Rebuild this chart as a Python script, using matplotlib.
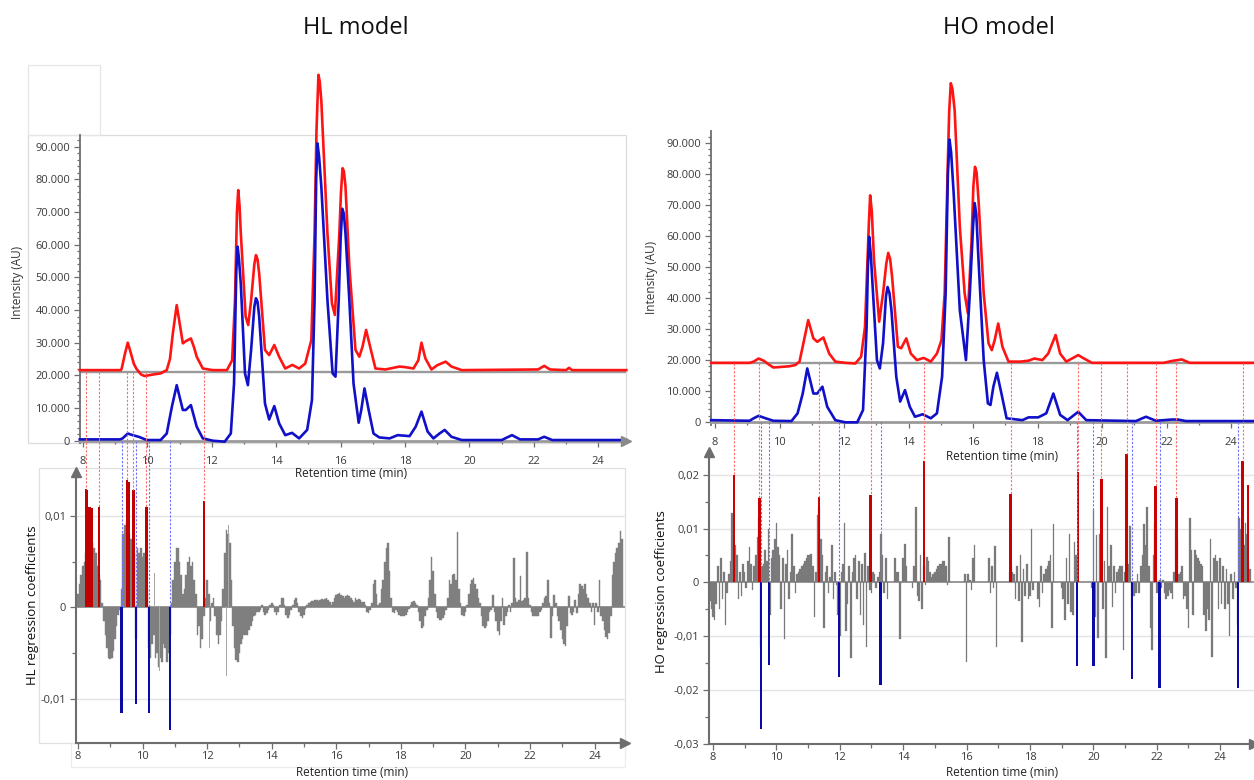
import numpy as np
import matplotlib
matplotlib.use("Agg")
import matplotlib.pyplot as plt
from matplotlib.lines import Line2D
from matplotlib.patches import Rectangle
from matplotlib.ticker import MultipleLocator, FuncFormatter
from matplotlib.transforms import blended_transform_factory

plt.rcParams['font.family'] = ['Open Sans', 'DejaVu Sans']

# ---------------- data: chromatograms (retention time in min, intensity in AU) ----------------
hl_red_trace = [
    (7.90, 21600), (9.17, 21600), (9.20, 22000), (9.30, 26500), (9.39, 30000), (9.48, 27000), (9.58, 23500),
    (9.66, 22000), (9.80, 20300), (9.91, 19800), (10.20, 20300), (10.41, 20600), (10.60, 21600), (10.70, 25000),
    (10.79, 32900), (10.91, 41500), (11.00, 36000), (11.10, 29800), (11.20, 30500), (11.35, 31300), (11.45, 28500),
    (11.53, 25700), (11.72, 22100), (12.03, 21600), (12.47, 21600), (12.63, 24600), (12.72, 43000), (12.78, 70000),
    (12.82, 76700), (12.86, 72000), (12.90, 63500), (13.05, 38000), (13.13, 35400), (13.22, 43000), (13.32, 54000),
    (13.37, 56800), (13.42, 55500), (13.47, 51200), (13.65, 27800), (13.78, 26200), (13.94, 29300), (14.09, 25700),
    (14.28, 22100), (14.50, 23200), (14.71, 22100), (14.90, 23600), (15.09, 30800), (15.19, 63500), (15.25, 95000),
    (15.31, 112000), (15.35, 110000), (15.40, 104000), (15.59, 63500), (15.73, 42000), (15.82, 38500),
    (15.96, 63500), (16.01, 76000), (16.06, 83400), (16.10, 82500), (16.15, 77800), (16.27, 53300), (16.46, 27800),
    (16.58, 25700), (16.68, 28800), (16.79, 33900), (16.89, 29800), (17.08, 22100), (17.39, 21800), (17.83, 22700),
    (18.01, 22500), (18.26, 22100), (18.41, 24600), (18.51, 30000), (18.63, 25200), (18.82, 21800), (19.00, 23100),
    (19.26, 24200), (19.44, 22700), (19.76, 21600), (22.13, 21800), (22.32, 22900), (22.50, 21800), (23.00, 21600),
    (23.09, 22300), (23.19, 21600), (24.87, 21600)]
hl_blue_trace = [
    (7.90, 400), (9.15, 400), (9.23, 700), (9.39, 2200), (9.54, 1700), (9.73, 1200), (9.98, 200), (10.41, 200),
    (10.60, 2200), (10.76, 10400), (10.91, 17000), (11.10, 9400), (11.19, 9400), (11.35, 10900), (11.53, 4300),
    (11.72, 700), (12.03, 0), (12.40, -300), (12.59, 2200), (12.69, 17500), (12.76, 52000), (12.80, 59400),
    (12.84, 56000), (12.90, 48000), (13.03, 20600), (13.12, 17000), (13.22, 27800), (13.32, 41000), (13.37, 43600),
    (13.42, 42500), (13.47, 38000), (13.65, 11400), (13.78, 6500), (13.94, 10600), (14.09, 5300), (14.28, 1700),
    (14.49, 2400), (14.71, 700), (14.96, 3300), (15.11, 12500), (15.19, 43000), (15.24, 80000), (15.28, 91000),
    (15.33, 87000), (15.40, 77800), (15.59, 43000), (15.75, 20600), (15.84, 19600), (15.94, 43000), (16.00, 62000),
    (16.05, 71000), (16.10, 69500), (16.15, 63500), (16.27, 43000), (16.40, 17500), (16.56, 5500), (16.64, 9400),
    (16.74, 16000), (16.87, 9400), (17.02, 2200), (17.20, 1000), (17.52, 700), (17.77, 1700), (18.14, 1400),
    (18.33, 4300), (18.51, 8900), (18.70, 2800), (18.88, 700), (19.07, 2200), (19.23, 3300), (19.44, 1200),
    (19.76, 200), (21.00, 200), (21.32, 1700), (21.57, 400), (22.13, 400), (22.32, 1200), (22.57, 200), (24.87, 200)]

ho_red_trace = [
    (7.88, 19000), (9.07, 19000), (9.20, 19400), (9.35, 20400), (9.51, 19700), (9.69, 18300), (9.81, 17500),
    (10.06, 17700), (10.31, 17900), (10.49, 18300), (10.62, 19400), (10.74, 25300), (10.89, 32800), (11.05, 26900),
    (11.17, 25800), (11.36, 27200), (11.54, 22000), (11.73, 19400), (12.04, 19000), (12.35, 18800), (12.53, 21000),
    (12.65, 30600), (12.77, 64000), (12.81, 73100), (12.86, 68000), (12.93, 52100), (13.09, 32300), (13.21, 41400),
    (13.31, 51000), (13.37, 54500), (13.43, 52500), (13.49, 46800), (13.67, 24200), (13.77, 23700), (13.93, 26900),
    (14.07, 22000), (14.26, 19900), (14.47, 20600), (14.69, 19400), (14.88, 22000), (15.02, 26300), (15.12, 41400),
    (15.22, 84400), (15.26, 100000), (15.31, 109300), (15.36, 107500), (15.43, 100500), (15.59, 62900),
    (15.74, 41400), (15.84, 35000), (15.95, 57600), (16.01, 76000), (16.06, 82300), (16.11, 80500), (16.17, 71500),
    (16.33, 41400), (16.48, 25300), (16.58, 23100), (16.67, 26300), (16.78, 31700), (16.91, 24200), (17.10, 19400),
    (17.47, 19400), (17.72, 19700), (17.90, 20400), (18.15, 19900), (18.33, 22000), (18.56, 28000), (18.70, 22000),
    (18.89, 19400), (19.26, 21500), (19.44, 20400), (19.69, 19000), (21.91, 19000), (22.16, 19600), (22.47, 20100),
    (22.72, 19000), (24.73, 19000)]
ho_blue_trace = [
    (7.88, 500), (9.07, 300), (9.20, 1100), (9.35, 1900), (9.57, 1100), (9.81, 300), (10.37, 200), (10.56, 2700),
    (10.72, 9100), (10.86, 17200), (11.05, 9100), (11.17, 9100), (11.33, 11300), (11.48, 4800), (11.73, 500),
    (12.04, -200), (12.41, -200), (12.59, 3800), (12.70, 30600), (12.74, 50000), (12.78, 59700), (12.83, 54000),
    (12.90, 41400), (13.02, 19900), (13.11, 17200), (13.21, 25300), (13.30, 40500), (13.35, 43500), (13.41, 41500),
    (13.47, 36000), (13.62, 14500), (13.74, 6500), (13.89, 10200), (14.04, 4800), (14.20, 1600), (14.44, 2400),
    (14.69, 1100), (14.88, 2700), (15.04, 14500), (15.15, 41400), (15.22, 80000), (15.27, 91100), (15.32, 87000),
    (15.40, 73600), (15.59, 36000), (15.78, 19900), (15.90, 41400), (16.00, 63000), (16.05, 70600), (16.10, 67000),
    (16.17, 52100), (16.33, 19900), (16.46, 5900), (16.54, 5400), (16.63, 11300), (16.74, 15800), (16.88, 9100),
    (17.04, 1100), (17.53, 500), (17.72, 1400), (18.02, 1400), (18.27, 2700), (18.49, 9100), (18.70, 2200),
    (18.93, 500), (19.26, 3200), (19.51, 500), (21.05, 200), (21.36, 1600), (21.67, 300), (22.16, 700),
    (22.35, 700), (22.60, 200), (24.73, 200)]

hl_red_baseline = 21030
ho_red_baseline = 18950
intensity_ticks = [0, 10000, 20000, 30000, 40000, 50000, 60000, 70000, 80000, 90000]

# ---------------- data: regression coefficients (x 1e-3), one bar every 0.05 min ----------------
hl_coef_start = 8.00
hl_coef_milli = [
    1.5, 2.5, 3.5, 4.5, 5.0, 6.0, 8.0, 8.5, 8.0, 7.0, 6.5, 6.0, 4.5, 3.5, 3.0, 0.5, -1.5, -3.0, -4.5, -5.5,
    -5.7, -5.5, -4.8, -3.5, -2.0, -0.8, -0.3, 2.0, 8.0, 9.0, 9.5, 9.0, 8.0, 7.5, 7.0, 6.0, -3.5, 6.5, 6.0, 6.5,
    5.5, 6.0, 5.0, 2.0, -4.5, -5.5, -4.0, -3.0, -5.5, -5.0, -6.5, -5.5, -6.0, -4.0, -4.5, -6.0, -5.0, -3.0, 0.5, 3.0,
    5.0, 6.5, 6.5, 5.0, 3.5, 1.5, 2.0, 3.5, 5.0, 5.5, 4.5, 5.0, 3.0, 1.5, -3.0, -2.0, -4.5, -3.5, -1.0, 1.0,
    3.0, 1.5, -1.5, 0.5, 1.0, -1.0, -3.0, -4.0, -3.0, -1.5, 2.0, 6.0, 8.5, 8.0, 7.0, 3.0, -2.0, -4.5, -5.8, -6.0,
    -5.0, -4.0, -3.5, -3.0, -3.0, -3.0, -2.5, -2.0, -1.5, -1.0, -0.8, -0.5, -0.5, -0.3, 0.2, -0.5, -0.8, -0.6, -0.3, 0.3,
    0.5, 0.2, -0.5, -0.8, -0.5, 0.3, 1.0, 1.0, 0.3, -0.8, -1.2, -0.8, -0.3, 0.3, 0.8, 1.0, 0.5, -0.5, -1.0, -1.2,
    -0.8, -0.2, 0.3, 0.5, 0.6, 0.7, 0.7, 0.8, 0.8, 0.7, 0.8, 0.9, 0.8, 0.9, 1.0, 0.8, 0.6, 0.3, 0.6, 1.0,
    1.3, 1.5, 1.6, 1.4, 1.2, 1.0, 1.2, 1.4, 1.2, 1.0, 0.8, 0.6, 1.0, 0.8, 0.9, 0.8, 0.6, 0.6, 0.3, -0.5,
    -0.6, -0.3, 0.5, 2.5, 3.0, 1.5, 0.3, 0.5, 2.0, 3.0, 5.0, 6.5, 7.0, 4.0, 1.0, -0.5, -0.6, -0.3, -0.5, -0.8,
    -1.0, -1.0, -1.0, -0.8, -0.5, -0.2, 0.3, 0.6, 0.7, 0.5, 0.2, -0.5, -1.5, -2.3, -2.0, -1.0, -0.3, 1.0, 3.0, 5.5,
    4.0, 1.5, -0.5, -1.2, -1.4, -1.4, -1.2, -0.8, -0.3, 1.0, 3.0, 2.5, 3.5, 3.6, 3.0, 8.3, 2.0, 0.5, -0.8, -1.0,
    -0.5, 0.3, 1.5, 2.5, 3.0, 3.2, 2.5, 2.0, 1.0, 0.5, -1.0, -2.0, -2.3, -2.0, -1.5, -0.5, -0.3, 1.4, -0.5, -1.5,
    -2.6, -3.0, -1.5, 1.0, -1.9, -1.0, -0.5, 0.3, -0.5, 0.5, 5.4, 1.0, 0.6, 0.8, 3.4, 0.7, 0.8, 1.0, 6.1, 1.0,
    0.3, -0.5, -0.9, -1.0, -1.0, -0.9, -0.5, -0.3, 0.5, 1.0, 1.2, 3.0, 0.5, -3.4, -1.0, 1.4, 0.5, -1.0, -1.5, -2.5,
    -3.5, -4.0, -4.2, -2.0, 1.2, -0.6, -0.8, -0.5, 0.8, -0.6, 1.5, 2.5, 2.3, 2.0, 2.5, 1.5, 1.0, 0.5, -0.5, 0.5,
    -1.9, 0.5, -0.5, 3.0, -1.0, -1.5, -2.5, -3.2, -3.5, -2.8, -1.0, 3.5, 5.0, 6.0, 6.5, 7.0, 8.4, 7.5, 0.0, 0.0,
]
hl_spike_t = [10.05, 10.37, 10.52, 10.67, 10.72, 11.84, 12.08, 12.60, 12.66, 10.30, 11.60]
hl_spike_milli = [-6.0, 3.8, -7.0, -8.5, 6.8, -7.0, -4.5, -7.5, 9.0, -8.0, 4.5]

ho_coef_start = 7.85
ho_coef_milli = [
    -2.0, -3.5, -5.0,
    -6.5, -7.0, -4.0, 3.0, -5.0, 4.5, -3.0, 2.0, -8.0, -2.0, 1.5, 4.0, 12.8, 7.5, 7.0, 5.0, -3.0, 2.0, -2.5, 3.5,
    2.0, -1.0, 4.0, 6.5, 3.5, -1.5, 3.0, 5.0, 8.5, 12.0, -12.0, 3.0, 3.5, 6.0, 4.0, 10.0, -6.0, 4.5, 6.0, 8.0,
    11.0, 6.5, 5.0, -5.0, 4.5, -10.5, 3.5, 6.0, -3.0, 2.0, 9.0, 3.0, -2.0, 1.5, 2.0, 2.5, 3.0, 3.5, 4.0, 4.5,
    5.0, 5.0, 5.2, 3.0, -6.5, 2.0, 12.5, 14.0, 8.0, 5.0, -8.5, 2.0, 3.0, -2.0, 1.0, 6.9, -3.0, 2.0, -0.5, -6.0,
    -10.0, 2.0, 3.5, 11.0, -9.0, -4.0, 3.0, -14.0, 2.0, 4.5, 5.0, -3.0, 4.0, -6.0, 3.5, -8.0, 5.5, -12.0, 3.0, -1.5,
    -2.0, 2.0, 1.5, -1.0, 1.0, 2.0, 9.0, 5.0, -2.0, 4.5, -3.0, 0.0, 0.0, 0.0, 0.0, 4.5, 2.0, 2.0, -10.5, 0.0,
    4.5, 7.2, 3.0, 0.0, 0.0, 0.0, -1.0, 3.0, 14.0, -2.5, -3.5, 5.0, -5.0, 3.0, -0.5, 4.8, 4.0, 2.0, 1.0, 1.5,
    2.0, 2.5, 3.0, 3.5, 3.5, 4.0, 4.0, 3.0, -0.5, 8.5, 0.0, 0.0, 0.0, 0.0, 0.0, 0.0, 0.0, 0.0, 0.0, 1.5,
    -14.8, 1.5, 0.5, -1.5, 4.5, 7.0, 0.0, 0.0, 0.0, 0.0, 0.0, 0.0, 0.0, 0.0, 4.5, -2.0, 3.0, -1.0, 6.8, -12.0,
    0.0, 0.0, 0.0, 0.0, 0.0, 0.0, 0.0, 2.0, 3.0, 2.0, 1.5, -3.0, 3.0, -3.5, 5.0, -11.0, 2.5, -2.5, 3.5, -3.0,
    -2.5, 10.0, -1.5, 0.0, 0.0, -3.0, -4.5, 3.0, -2.0, 1.5, 2.5, 3.0, 4.0, 5.0, -8.5, 10.9, 0.0, 0.0, 0.0, 0.0,
    -1.0, -3.0, -7.0, 4.5, -4.0, 9.0, -5.5, -6.0, 7.5, 5.0, 0.0, 0.0, 0.0, 0.0, 0.0, 0.0, 0.0, 0.0, 0.0, -1.0,
    13.5, -6.5, 8.8, -10.4, 9.0, 2.0, -5.0, 4.0, -14.0, 14.0, 3.0, 7.0, -4.5, 3.0, -2.0, 2.0, 2.5, 3.0, 3.0, -12.5,
    2.0, 4.0, 3.5, 10.5, -5.0, -2.5, -2.5, -2.0, 1.5, -2.0, 3.0, 5.0, 10.9, 7.0, 14.0, 3.0, -8.5, -12.5, 5.0, 11.0,
    -2.0, -2.0, 0.5, -1.0, 0.5, -2.0, -3.0, -2.5, -1.5, -2.0, -3.0, 2.0, 10.0, 8.0, 1.5, 2.0, 3.0, -3.0, -2.5, -5.0,
    -8.5, 12.0, 6.0, -6.0, 6.0, 5.0, 4.5, 4.0, 3.5, 3.0, -6.0, -9.0, -5.0, -7.0, 8.0, -13.8, 4.5, 5.0, 4.0, -5.0,
    4.5, -4.0, 3.0, -5.0, 2.5, -4.0, -10.0, 1.5, -3.0, 2.0, -1.0, -8.0, 12.0, 10.0, 6.0, 7.0, 11.0, 9.0, 4.0, 2.5,
]

# highlighted (significant) coefficients
hl_pos_t = [8.24, 8.29, 8.36, 8.44, 8.65, 9.53, 9.59, 9.72, 10.12, 11.90]
hl_pos_v = [0.0130, 0.0128, 0.0110, 0.0109, 0.0110, 0.0139, 0.0137, 0.0128, 0.0110, 0.0116]
hl_neg_t = [9.35, 9.79, 10.20, 10.85]
hl_neg_v = [-0.0116, -0.0106, -0.0116, -0.01345]
hl_pos_marked = [8.24, 8.65, 9.53, 9.72, 10.12, 11.90]

ho_pos_t = [8.67, 9.46, 11.35, 12.97, 14.66, 17.39, 19.52, 20.25, 21.05, 21.97, 22.62, 24.71, 24.88]
ho_pos_v = [0.0199, 0.0156, 0.0159, 0.0163, 0.0225, 0.0164, 0.0204, 0.0191, 0.0238, 0.0179, 0.0157, 0.0225, 0.0180]
ho_neg_t = [9.51, 9.77, 11.98, 13.29, 19.49, 20.00, 21.22, 22.09, 24.56]
ho_neg_v = [-0.0272, -0.0153, -0.0176, -0.0190, -0.0156, -0.0156, -0.0180, -0.0196, -0.0196]
ho_pos_marked = [8.67, 9.46, 11.35, 12.97, 14.66, 17.39, 19.52, 20.25, 21.05, 21.97, 22.62, 24.71]

hl_coef_ticks = [-0.01, 0, 0.01]
hl_coef_labels = ['-0,01', '0', '0,01']
ho_coef_ticks = [-0.03, -0.02, -0.01, 0, 0.01, 0.02]
ho_coef_labels = ['-0,03', '-0,02', '-0,01', '0', '0,01', '0,02']
time_ticks = [8, 10, 12, 14, 16, 18, 20, 22, 24]

# ---------------- figure ----------------
W, H = 1254, 780
fig = plt.figure(figsize=(W / 100, H / 100), dpi=100)
fig.patch.set_facecolor('white')


def rect(x0, y0, x1, y1):
    return [x0 / W, 1 - y1 / H, (x1 - x0) / W, (y1 - y0) / H]


def ftext(x, y, s, **kw):
    fig.text(x / W, 1 - y / H, s, **kw)


AXC = '#6e6e6e'
LBL = '#3a3a3a'

# faint frames from the original software screenshot
for (x0, y0, x1, y1, c) in [(28, 135, 626, 443, '#dcdcdc'), (28, 65, 100, 135, '#e6e6e6'),
                            (39, 468, 625, 743, '#e0e0e0'), (71, 743, 625, 767, '#ececec')]:
    fig.add_artist(Rectangle((x0 / W, 1 - y1 / H), (x1 - x0) / W, (y1 - y0) / H,
                             transform=fig.transFigure, fill=False, ec=c, lw=0.9, zorder=0))

ax_tl = fig.add_axes(rect(80, 135, 626, 443))
ax_bl = fig.add_axes(rect(76, 472, 625, 743))
ax_tr = fig.add_axes(rect(711, 131, 1254, 425))
ax_br = fig.add_axes(rect(709, 452, 1254, 744))


def style_top(ax, xlim, ylim, base, arrow):
    ax.set_xlim(*xlim)
    ax.set_ylim(*ylim)
    ax.patch.set_alpha(0)
    for s in ['top', 'right']:
        ax.spines[s].set_visible(False)
    ax.spines['left'].set_color(AXC)
    ax.spines['left'].set_linewidth(1.3)
    ax.spines['bottom'].set_position(('data', 0))
    ax.spines['bottom'].set_color('#9a9a9a')
    ax.spines['bottom'].set_linewidth(2.0)
    ax.axhline(base, color='#9a9a9a', lw=1.7, zorder=1)
    ax.set_yticks(intensity_ticks)
    ax.yaxis.set_minor_locator(MultipleLocator(2000))
    ax.yaxis.set_major_formatter(FuncFormatter(lambda v, p: f"{v:,.0f}".replace(',', '.')))
    ax.set_xticks(time_ticks)
    ax.xaxis.set_minor_locator(MultipleLocator(1))
    ax.tick_params(axis='both', which='both', direction='out', color=AXC,
                   labelsize=8, labelcolor=LBL, width=0.9)
    ax.tick_params(which='major', length=4, pad=3)
    ax.tick_params(which='minor', length=2.5)
    ax.tick_params(axis='x', which='both', pad=7)
    if arrow:
        tr = blended_transform_factory(ax.transAxes, ax.transData)
        ax.plot([1.0], [0], marker='>', ms=7, color='#8a8a8a', transform=tr, clip_on=False, zorder=5)


def style_bot(ax, xlim, ylim, ticks, labels):
    ax.set_xlim(*xlim)
    ax.set_ylim(*ylim)
    ax.patch.set_alpha(0)
    for s in ['top', 'right']:
        ax.spines[s].set_visible(False)
    for s in ['left', 'bottom']:
        ax.spines[s].set_color(AXC)
        ax.spines[s].set_linewidth(1.5)
    ax.set_yticks(ticks, labels)
    ax.yaxis.set_minor_locator(MultipleLocator(0.005))
    for y in ticks:
        if y != 0 and ylim[0] < y < ylim[1]:
            ax.axhline(y, color='#e4e4e4', lw=1.0, zorder=0)
    ax.axhline(0, color='#8c8c8c', lw=1.2, zorder=1)
    ax.set_xticks(time_ticks)
    ax.xaxis.set_minor_locator(MultipleLocator(1))
    ax.tick_params(axis='both', which='both', direction='out', color=AXC,
                   labelsize=8, labelcolor=LBL, width=0.9)
    ax.tick_params(which='major', length=4, pad=3)
    ax.tick_params(which='minor', length=3)
    ax.tick_params(axis='x', which='both', pad=2)
    ax.plot([0], [1], marker='^', ms=7, color=AXC, transform=ax.transAxes, clip_on=False, zorder=5)
    ax.plot([1], [0], marker='>', ms=7, color=AXC, transform=ax.transAxes, clip_on=False, zorder=5)


style_top(ax_tl, (7.907, 24.86), (-704, 93570), hl_red_baseline, True)
style_top(ax_tr, (7.876, 24.71), (-1066, 93870), ho_red_baseline, False)
style_bot(ax_bl, (7.94, 24.94), (-0.01486, 0.01482), hl_coef_ticks, hl_coef_labels)
style_bot(ax_br, (7.874, 25.07), (-0.0300, 0.0242), ho_coef_ticks, ho_coef_labels)

# chromatograms
for ax, red, blue in [(ax_tl, hl_red_trace, hl_blue_trace), (ax_tr, ho_red_trace, ho_blue_trace)]:
    rt, rv = zip(*red)
    bt, bv = zip(*blue)
    ax.plot(rt, rv, color='#ff1414', lw=1.9, clip_on=False, zorder=3, solid_joinstyle='round')
    ax.plot(bt, bv, color='#1010c8', lw=1.9, clip_on=False, zorder=4, solid_joinstyle='round')

# regression coefficients
hl_t = hl_coef_start + 0.05 * np.arange(len(hl_coef_milli))
ax_bl.bar(hl_t, np.array(hl_coef_milli) / 1000, width=0.05, color='#7f7f7f',
          edgecolor='#7f7f7f', linewidth=0.3, zorder=2)
ax_bl.bar(hl_spike_t, np.array(hl_spike_milli) / 1000, width=0.015, color='#a8a8a8', linewidth=0, zorder=2)
ax_bl.bar(hl_pos_t, hl_pos_v, width=0.07, color='#c00000', linewidth=0, zorder=3)
ax_bl.bar(hl_neg_t, hl_neg_v, width=0.07, color='#0a0aa8', linewidth=0, zorder=3)

ho_t = ho_coef_start + 0.05 * np.arange(len(ho_coef_milli))
ax_br.bar(ho_t, np.array(ho_coef_milli) / 1000, width=0.05, color='#7a7a7a',
          edgecolor='#7a7a7a', linewidth=0.2, zorder=2)
ax_br.bar(ho_pos_t, ho_pos_v, width=0.08, color='#cc0000', linewidth=0, zorder=3)
ax_br.bar(ho_neg_t, ho_neg_v, width=0.08, color='#0a0aa8', linewidth=0, zorder=3)

# dotted connectors between the chromatogram and the coefficient plot
inv = fig.transFigure.inverted()


def connector(ax_top, ax_bot, t, ytop, ybot, color):
    xd = ax_bot.transData.transform((t, 0))[0]
    yt = ax_top.transData.transform((0, ytop))[1]
    yb = ax_bot.transData.transform((0, ybot))[1]
    (x0, y0), (x1, y1) = inv.transform([(xd, yt), (xd, yb)])
    fig.add_artist(Line2D([x0, x1], [y0, y1], transform=fig.transFigure, color=color,
                          lw=0.8, ls=(0, (2, 1.5)), zorder=1))


for ax_top, ax_bot, base, marked, pt, pv, nt in [
        (ax_tl, ax_bl, hl_red_baseline, hl_pos_marked, hl_pos_t, hl_pos_v, hl_neg_t),
        (ax_tr, ax_br, ho_red_baseline, ho_pos_marked, ho_pos_t, ho_pos_v, ho_neg_t)]:
    for t in marked:
        v = pv[pt.index(t)]
        connector(ax_top, ax_bot, t, base, v, '#ff6a6a')
    for t in nt:
        connector(ax_top, ax_bot, t, 0, 0, '#7070ff')

# titles and labels
ftext(356, 28, 'HL model', ha='center', va='center', fontsize=17, color='#111111')
ftext(999, 28, 'HO model', ha='center', va='center', fontsize=17, color='#111111')
ftext(18, 282, 'Intensity (AU)', ha='center', va='center', rotation=90, fontsize=8.5, color='#333333')
ftext(652, 277, 'Intensity (AU)', ha='center', va='center', rotation=90, fontsize=8.5, color='#333333')
ftext(33, 605, 'HL regression coefficients', ha='center', va='center', rotation=90, fontsize=9.5, color='#111111')
ftext(662, 592, 'HO regression coefficients', ha='center', va='center', rotation=90, fontsize=9.5, color='#111111')
ftext(351, 474, 'Retention time (min)', ha='center', va='center', fontsize=8.5, color='#222222')
ftext(352, 773, 'Retention time (min)', ha='center', va='center', fontsize=8.5, color='#222222')
ftext(1002, 456, 'Retention time (min)', ha='center', va='center', fontsize=8.5, color='#222222')
ftext(1002, 773, 'Retention time (min)', ha='center', va='center', fontsize=8.5, color='#222222')

fig.savefig('out.png', dpi=100)
